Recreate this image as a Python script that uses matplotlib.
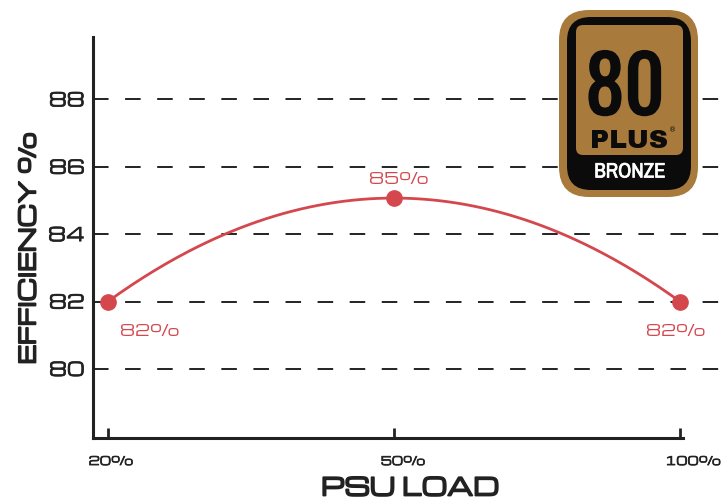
import numpy as np
import matplotlib
matplotlib.use("Agg")
import matplotlib.pyplot as plt
import matplotlib.patheffects as pe
from matplotlib.patches import FancyBboxPatch
from matplotlib.transforms import ScaledTranslation

loads = ["20%", "50%", "100%"]
efficiency = [82.0, 85.07, 82.0]
point_labels = ["82%", "85%", "82%"]
y_ticks = [80, 82, 84, 86, 88]

RED = "#d4474d"
INK = "#222222"
BRONZE = "#a87b3d"
WIDE = ['Michroma', 'Orbitron', 'DejaVu Sans']

fig = plt.figure(figsize=(7.22, 4.99), dpi=100)
ax = fig.add_axes([93/722, 1-438/499, (720-93)/722, (438-37)/499])

idx = np.arange(len(loads))
coef = np.polyfit(idx, efficiency, 2)
xs = np.linspace(idx[0], idx[-1], 200)
ax.plot(xs, np.polyval(coef, xs), color=RED, lw=2, zorder=3)
ax.plot(idx, efficiency, 'o', color=RED, ms=11, zorder=4)

ax.set_xlim(-0.052, 2.14)
ax.set_ylim(77.95, 89.85)

for v in y_ticks:
    ax.axhline(v, color=INK, lw=1.4, linestyle=(0, (8, 8.5)), zorder=1)

ax.set_yticks(y_ticks)
ax.set_xticks(idx)
ax.set_xticklabels(loads)
ax.tick_params(axis='y', length=0, pad=6, labelsize=13.5, labelcolor=INK)
ax.tick_params(axis='x', direction='in', length=7, width=2, color=INK,
               pad=13, labelsize=8.5, labelcolor=INK)
semi = [pe.withStroke(linewidth=0.5, foreground=INK)]
for lab in ax.get_yticklabels():
    lab.set_family(WIDE)
    lab.set_path_effects(semi)
for lab, dx in zip(ax.get_xticklabels(), [3, 9, 13]):
    lab.set_family(WIDE)
    lab.set_path_effects(semi)
    lab.set_transform(lab.get_transform() + ScaledTranslation(dx/100, 0, fig.dpi_scale_trans))

for s in ['top', 'right']:
    ax.spines[s].set_visible(False)
for s in ['left', 'bottom']:
    ax.spines[s].set_linewidth(2.2)
    ax.spines[s].set_color(INK)
ax.spines['bottom'].set_bounds(-0.052, 2.01)

offsets = [(30, -21.6), (3.6, 13.7), (-3, -21.6)]
for i, (lab, (dx, dy)) in enumerate(zip(point_labels, offsets)):
    ax.annotate(lab, (idx[i], efficiency[i]), xytext=(dx, dy), textcoords='offset points',
                ha='center', va='center', color=RED, fontsize=11.3, family=WIDE)

bold = [pe.withStroke(linewidth=1.3, foreground=INK)]
fig.text(29/722, 1-248/499, "EFFICIENCY %", rotation=90, ha='center', va='center',
         fontsize=16, color=INK, family=WIDE, path_effects=bold)
fig.text(410/722, 1-489/499, "PSU LOAD", ha='center', va='center',
         fontsize=17.5, color=INK, family=WIDE, path_effects=bold)

# 80 PLUS badge (pixel coordinates converted to inches)
T = fig.dpi_scale_trans
H = 499
def box(x0, y0, x1, y1, r, color, z):
    p = FancyBboxPatch(((x0)/100, (H-y1)/100), (x1-x0)/100, (y1-y0)/100,
                       boxstyle=f"round,pad=0,rounding_size={r/100}",
                       transform=T, facecolor=color, edgecolor='none', zorder=z)
    fig.patches.append(p)

box(559, 10, 698, 197, 30, BRONZE, 5)
box(567, 17, 691, 190, 24, "#0b0b0b", 6)
box(576, 25, 683, 155, 7, BRONZE, 7)

fig.text(625/100, (H-90)/100, "80", transform=T, ha='center', va='center',
         fontsize=56, fontweight='bold', family=['Oswald', 'Archivo Narrow', 'DejaVu Sans'],
         color="#0b0b0b", zorder=8,
         path_effects=[pe.withStroke(linewidth=1.5, foreground="#0b0b0b")])
fig.text(629/100, (H-141)/100, "PLUS", transform=T, ha='center', va='center',
         fontsize=19, family=['Archivo Black', 'DejaVu Sans'], color="#0b0b0b", zorder=8)
fig.text(673/100, (H-130)/100, "®", transform=T, ha='center', va='center',
         fontsize=5, color="#0b0b0b", zorder=8)
fig.text(630/100, (H-172)/100, "BRONZE", transform=T, ha='center', va='center',
         fontsize=15, fontweight='bold', family=['Archivo Narrow', 'DejaVu Sans'],
         color="white", zorder=8,
         path_effects=[pe.withStroke(linewidth=0.5, foreground="white")])

fig.savefig("out.png", dpi=100)
